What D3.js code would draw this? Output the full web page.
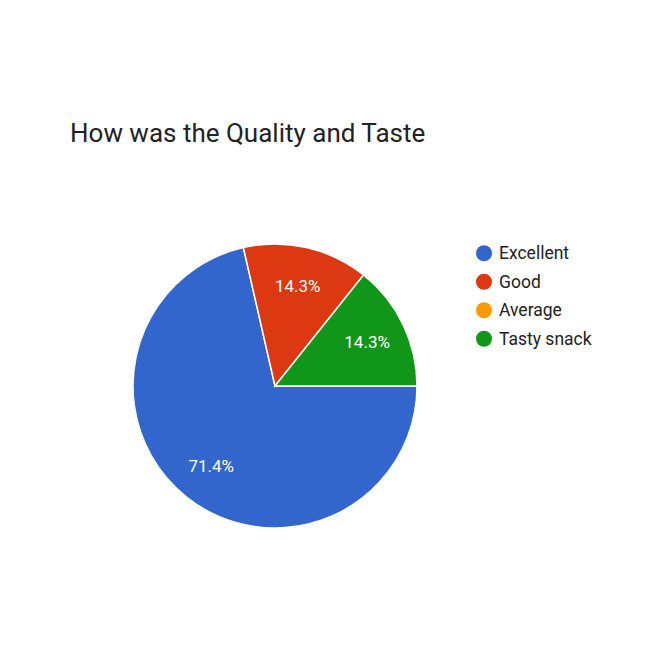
<!DOCTYPE html>
<html><head><meta charset="utf-8">
<script src="https://cdn.jsdelivr.net/npm/d3@7"></script>
<style>html,body{margin:0;padding:0;background:#fff;}</style>
</head><body>
<svg id="c" width="647" height="669"></svg>
<script>
const title = "How was the Quality and Taste";
const categories = ["Excellent", "Good", "Average", "Tasty snack"];
const counts = [5, 1, 0, 1];
const colors = ["#3366cc", "#dc3912", "#ff9900", "#109618"];

const svg = d3.select("#c");
const font = "Roboto, Arial, sans-serif";
svg.append("rect").attr("width", 647).attr("height", 669).attr("fill", "#fff");

svg.append("text").attr("x", 70).attr("y", 142).attr("font-family", font)
  .attr("font-size", 26).attr("fill", "#222").text(title);

const cx = 275, cy = 386, r = 142;
const total = d3.sum(counts);
const pie = d3.pie().sort(null).value(d => d)
  .startAngle(Math.PI / 2).endAngle(Math.PI / 2 + 2 * Math.PI);
const arcs = pie(counts);
const arc = d3.arc().innerRadius(0).outerRadius(r);
const g = svg.append("g").attr("transform", `translate(${cx},${cy})`);
g.selectAll("path").data(arcs).join("path")
  .attr("d", arc).attr("fill", (d, i) => colors[i])
  .attr("stroke", "#fff").attr("stroke-width", d => d.value > 0 ? 1.5 : 0);

const labelArc = d3.arc().innerRadius(r * 0.72).outerRadius(r * 0.72);
g.selectAll("text").data(arcs.filter(d => d.value > 0)).join("text")
  .attr("transform", d => `translate(${labelArc.centroid(d)})`)
  .attr("text-anchor", "middle").attr("dy", "0.35em")
  .attr("font-family", font).attr("font-size", 17).attr("fill", "#fff")
  .text(d => (d.value / total * 100).toFixed(1) + "%");

const legend = svg.append("g");
const ly = d3.scaleBand().domain(categories).range([239, 353]);
categories.forEach((c, i) => {
  const y = ly(c) + ly.bandwidth() / 2;
  legend.append("circle").attr("cx", 484).attr("cy", y).attr("r", 8).attr("fill", colors[i]);
  legend.append("text").attr("x", 499).attr("y", y).attr("dy", "0.35em")
    .attr("font-family", font).attr("font-size", 17.5).attr("fill", "#222").text(c);
});
</script>
</body></html>
